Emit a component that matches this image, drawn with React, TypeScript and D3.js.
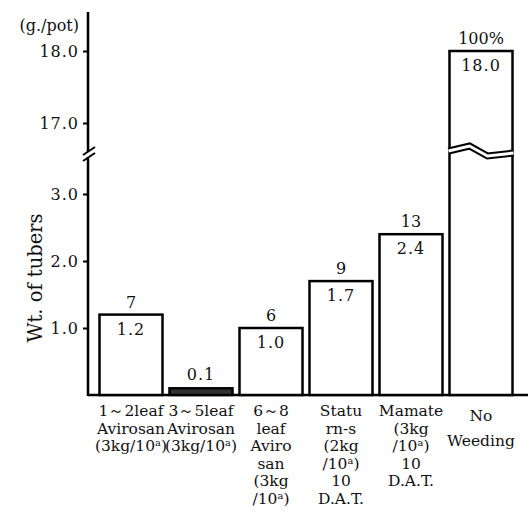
import * as d3 from "d3";
import React, { useRef, useEffect } from "react";

const width = 530;
const height = 514;
const baseY = 395;
const axisX = 88;
const font = "'DejaVu Serif', 'Liberation Serif', serif";

const categories = ["a1", "a2", "a3", "st", "mm", "nw"];
const values = [1.2, 0.1, 1.0, 1.7, 2.4, 18.0];
const valueLabels = ["1.2", "0.1", "1.0", "1.7", "2.4", "18.0"];
const percentLabels = ["7", "", "6", "9", "13", "100%"];
const categoryLines = [
	["1～2leaf", "Avirosan", "(3kg/10ᵃ)"],
	["3～5leaf", "Avirosan", "(3kg/10ᵃ)"],
	["6～8", "leaf", "Aviro", "san", "(3kg", "/10ᵃ)"],
	["Statu", "rn-s", "(2kg", "/10ᵃ)", "10", "D.A.T."],
	["Mamate", "(3kg", "/10ᵃ)", "10", "D.A.T."],
	["No", "Weeding"],
];
const lowerTicks = [1, 2, 3];
const upperTicks = [17, 18];

const App = () => {
	const ref = useRef(null);

	useEffect(() => {
		if (!ref.current) return;
		const svg = d3.select(ref.current);
		svg.selectAll("*").remove();

		const yLow = d3.scaleLinear().domain([0, 3]).range([baseY, 194]);
		const yHigh = d3.scaleLinear().domain([17, 18]).range([123, 51]);
		const y = (v: number) => (v > 10 ? yHigh(v) : yLow(v));
		const x = d3
			.scaleBand()
			.domain(categories)
			.range([96, 516])
			.paddingInner(0.1)
			.paddingOuter(0.05);

		// ticks
		const tickAxis = (scale: any, ticks: number[]) =>
			d3
				.axisLeft(scale)
				.tickValues(ticks)
				.tickFormat((d: any) => d3.format(".1f")(d))
				.tickSize(5)
				.tickSizeOuter(0)
				.tickPadding(4);

		[
			[yLow, lowerTicks],
			[yHigh, upperTicks],
		].forEach(([scale, ticks]: any) => {
			const g = svg
				.append("g")
				.attr("transform", `translate(${axisX},0)`)
				.call(tickAxis(scale, ticks));
			g.select(".domain").remove();
			g.selectAll("line").attr("stroke", "#000").attr("stroke-width", 2);
			g.selectAll("text")
				.attr("font-family", font)
				.attr("font-size", 16)
				.attr("letter-spacing", 1)
				.attr("fill", "#111");
		});

		// axis line with break
		svg.append("line")
			.attr("x1", axisX)
			.attr("x2", axisX)
			.attr("y1", 12)
			.attr("y2", baseY + 1)
			.attr("stroke", "#000")
			.attr("stroke-width", 2.5);
		svg.append("rect")
			.attr("x", axisX - 3)
			.attr("y", 152)
			.attr("width", 6)
			.attr("height", 5)
			.attr("fill", "#fff");
		[0, 6].forEach((o) => {
			svg.append("line")
				.attr("x1", axisX - 5)
				.attr("y1", 155 + o)
				.attr("x2", axisX + 7)
				.attr("y2", 147 + o)
				.attr("stroke", "#000")
				.attr("stroke-width", 2);
		});

		// baseline
		svg.append("line")
			.attr("x1", axisX)
			.attr("x2", 528)
			.attr("y1", baseY)
			.attr("y2", baseY)
			.attr("stroke", "#000")
			.attr("stroke-width", 2.5);

		const bars = svg
			.selectAll(".bar-group")
			.data(values)
			.enter()
			.append("g")
			.attr("class", "bar-group");

		bars.append("rect")
			.attr("x", (d: any, i: number): any => x(categories[i]))
			.attr("y", (d: number) => y(d))
			.attr("width", x.bandwidth())
			.attr("height", (d: number) => baseY - y(d))
			.attr("fill", (d: number) => (d < 0.5 ? "#333" : "#fff"))
			.attr("stroke", "#000")
			.attr("stroke-width", 2.5);

		// zigzag break on tall bar
		values.forEach((v, i) => {
			if (v < 10) return;
			const x0 = x(categories[i]) as number;
			const x1 = x0 + x.bandwidth();
			const pts: [number, number][] = [
				[x0 - 1, 151],
				[x0 + 20, 146],
				[x0 + 38, 156],
				[x1 + 1, 153],
			];
			const line = d3.line();
			svg.append("path")
				.attr("d", line(pts))
				.attr("fill", "none")
				.attr("stroke", "#000")
				.attr("stroke-width", 7);
			svg.append("path")
				.attr("d", line(pts))
				.attr("fill", "none")
				.attr("stroke", "#fff")
				.attr("stroke-width", 3);
		});

		const cx = (i: number) => (x(categories[i]) as number) + x.bandwidth() / 2;

		// values inside / above bars
		bars.append("text")
			.text((d: any, i: number) => valueLabels[i])
			.attr("x", (d: any, i: number) => cx(i))
			.attr("y", (d: number) => (d < 0.5 ? y(d) - 8 : y(d) + 20))
			.attr("text-anchor", "middle")
			.attr("font-family", font)
			.attr("font-size", 16)
			.attr("letter-spacing", 1)
			.attr("fill", "#111");

		bars.append("text")
			.text((d: any, i: number) => percentLabels[i])
			.attr("x", (d: any, i: number) => cx(i))
			.attr("y", (d: number) => y(d) - 7)
			.attr("text-anchor", "middle")
			.attr("font-family", font)
			.attr("font-size", 16)
			.attr("fill", "#111");

		// category labels
		categoryLines.forEach((lines, i) => {
			const lh = lines.length <= 2 ? 25 : 17.5;
			const t = svg
				.append("text")
				.attr("text-anchor", "middle")
				.attr("font-family", font)
				.attr("font-size", 15.5)
				.attr("fill", "#111");
			lines.forEach((s, j) => {
				t.append("tspan")
					.attr("x", cx(i))
					.attr("y", (lines.length <= 2 ? 421 : 416) + j * lh)
					.text(s);
			});
		});

		// unit and axis title
		svg.append("text")
			.attr("x", 79)
			.attr("y", 31)
			.attr("text-anchor", "end")
			.attr("font-family", font)
			.attr("font-size", 16)
			.attr("fill", "#111")
			.text("(g./pot)");

		svg.append("text")
			.attr("transform", "translate(42,278) rotate(-90)")
			.attr("text-anchor", "middle")
			.attr("font-family", font)
			.attr("font-size", 19.5)
			.attr("fill", "#111")
			.text("Wt. of tubers");
	}, []);

	return (
		<svg
			ref={ref}
			width={width}
			height={height}
			style={{ position: "absolute", left: 0, top: 0, backgroundColor: "white" }}
		/>
	);
};

export default App;
